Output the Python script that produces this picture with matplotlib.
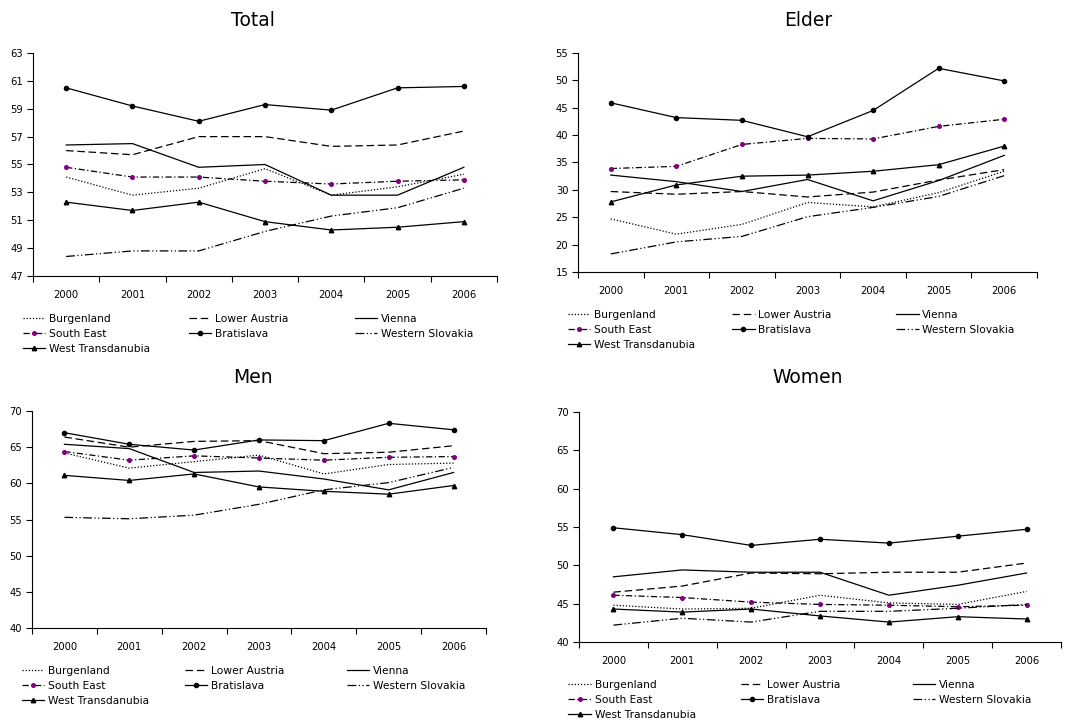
#!/usr/bin/env python3

# four panels of regional rates 2000-2006, Excel-style line charts

import matplotlib
matplotlib.use("Agg")
import matplotlib.pyplot as plt

years = ["2000", "2001", "2002", "2003", "2004", "2005", "2006"]
regions = ["Burgenland", "Lower Austria", "Vienna", "South East",
           "Bratislava", "Western Slovakia", "West Transdanubia"]

total = {
    "Burgenland":        [54.1, 52.8, 53.3, 54.7, 52.8, 53.4, 54.3],
    "Lower Austria":     [56.0, 55.7, 57.0, 57.0, 56.3, 56.4, 57.4],
    "Vienna":            [56.4, 56.5, 54.8, 55.0, 52.8, 52.8, 54.8],
    "South East":        [54.8, 54.1, 54.1, 53.8, 53.6, 53.8, 53.9],
    "Bratislava":        [60.5, 59.2, 58.1, 59.3, 58.9, 60.5, 60.6],
    "Western Slovakia":  [48.4, 48.8, 48.8, 50.2, 51.3, 51.9, 53.3],
    "West Transdanubia": [52.3, 51.7, 52.3, 50.9, 50.3, 50.5, 50.9],
}
elder = {
    "Burgenland":        [24.7, 21.9, 23.7, 27.7, 26.9, 29.5, 33.4],
    "Lower Austria":     [29.7, 29.2, 29.7, 28.7, 29.6, 31.8, 33.7],
    "Vienna":            [32.7, 31.5, 29.7, 31.9, 28.0, 31.7, 36.3],
    "South East":        [33.9, 34.3, 38.3, 39.4, 39.3, 41.6, 42.9],
    "Bratislava":        [45.9, 43.2, 42.7, 39.7, 44.5, 52.2, 49.9],
    "Western Slovakia":  [18.3, 20.5, 21.5, 25.1, 26.8, 28.8, 32.6],
    "West Transdanubia": [27.8, 30.9, 32.5, 32.7, 33.4, 34.6, 38.0],
}
men = {
    "Burgenland":        [64.2, 62.1, 63.0, 63.9, 61.3, 62.6, 62.8],
    "Lower Austria":     [66.4, 65.0, 65.8, 65.9, 64.1, 64.3, 65.2],
    "Vienna":            [65.4, 64.8, 61.5, 61.7, 60.6, 59.1, 61.5],
    "South East":        [64.4, 63.2, 63.8, 63.5, 63.2, 63.6, 63.7],
    "Bratislava":        [67.0, 65.4, 64.6, 66.0, 65.9, 68.3, 67.4],
    "Western Slovakia":  [55.3, 55.1, 55.6, 57.1, 59.1, 60.1, 62.2],
    "West Transdanubia": [61.1, 60.4, 61.3, 59.5, 58.9, 58.5, 59.7],
}
women = {
    "Burgenland":        [44.8, 44.3, 44.4, 46.1, 45.1, 44.9, 46.6],
    "Lower Austria":     [46.5, 47.3, 49.0, 48.9, 49.1, 49.1, 50.3],
    "Vienna":            [48.5, 49.4, 49.1, 49.1, 46.1, 47.4, 49.0],
    "South East":        [46.1, 45.8, 45.2, 44.9, 44.8, 44.6, 44.8],
    "Bratislava":        [54.9, 54.0, 52.6, 53.4, 52.9, 53.8, 54.7],
    "Western Slovakia":  [42.2, 43.1, 42.6, 44.0, 44.0, 44.4, 44.9],
    "West Transdanubia": [44.3, 43.9, 44.3, 43.4, 42.6, 43.3, 43.0],
}

styles = {
    "Burgenland":        dict(ls=(0, (1, 1.5))),
    "Lower Austria":     dict(ls=(0, (6, 3))),
    "Vienna":            dict(ls="-"),
    "South East":        dict(ls=(0, (5, 2, 1, 2)), marker="o", ms=2.6,
                              mfc="#800080", mec="#800080"),
    "Bratislava":        dict(ls="-", marker="o", ms=3.0),
    "Western Slovakia":  dict(ls=(0, (7, 2, 1, 2, 1, 2))),
    "West Transdanubia": dict(ls="-", marker="^", ms=3.2),
}

# title, data, y range, axes rect in pixels (left, top, right, bottom), title pos
panels = [
    ("Total", total, (47, 63, 2), (33, 53, 497, 276), (253, 20)),
    ("Elder", elder, (15, 55, 5), (578, 53, 1037, 272), (808, 20)),
    ("Men", men, (40, 70, 5), (32, 411, 486, 628), (253, 378)),
    ("Women", women, (40, 70, 5), (579, 412, 1061, 642), (808, 378)),
]

W, H = 1069, 725
plt.rcParams["font.family"] = "DejaVu Sans"
fig = plt.figure(figsize=(W / 100, H / 100), dpi=100)

for title, data, (ymin, ymax, step), (l, t, r, b), (tx, ty) in panels:
    ax = fig.add_axes([l / W, 1 - b / H, (r - l) / W, (b - t) / H])
    x = list(range(len(years)))
    handles = {}
    for name in regions:
        st = dict(color="black", lw=0.9)
        st.update(styles[name])
        if "mfc" not in st:
            st["mfc"] = "black"
            st["mec"] = "black"
        handles[name], = ax.plot(x, data[name], label=name, **st)

    ax.set_xlim(-0.5, len(years) - 0.5)
    ax.set_ylim(ymin, ymax)
    ax.set_yticks(range(ymin, ymax + 1, step))
    ax.set_xticks([i + 0.5 for i in range(-1, len(years))])
    ax.set_xticklabels([])
    ax.set_xticks(x, minor=True)
    ax.set_xticklabels(years, minor=True)
    ax.tick_params(axis="x", which="minor", length=0, pad=10, labelsize=7.2)
    ax.tick_params(axis="x", which="major", length=4, direction="out", width=0.8)
    ax.tick_params(axis="y", length=4, direction="out", width=0.8, labelsize=7.2, pad=3)
    for s in ("top", "right"):
        ax.spines[s].set_visible(False)
    for s in ("left", "bottom"):
        ax.spines[s].set_linewidth(0.8)

    fig.text(tx / W, 1 - ty / H, title, ha="center", va="center", fontsize=13.5)

    # legend as three columns, row-wise order like the original
    cols = [regions[0::3], regions[1::3], regions[2::3]]
    leg_top = (b + 38 - t) / (b - t)
    for ci, names in enumerate(cols):
        lx = [-0.022, 0.336, 0.693][ci]
        leg = ax.legend([handles[n] for n in names], names,
                        loc="upper left", bbox_to_anchor=(lx, 1 - leg_top),
                        frameon=False, fontsize=7.7, handlelength=2.1,
                        handletextpad=0.35, borderpad=0, borderaxespad=0,
                        labelspacing=0.45)
        if ci < 2:
            ax.add_artist(leg)

fig.savefig("out.png", dpi=100)
